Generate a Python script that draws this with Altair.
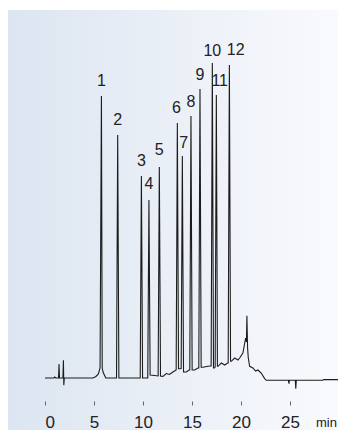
import altair as alt
import pandas as pd

# chromatogram trace (time in min, detector signal in arbitrary units)
trace_t = [0.0, 0.9, 1.0, 1.1, 1.38, 1.43, 1.48, 1.83, 1.88, 1.92, 1.97,
           4.9, 5.2, 5.45, 5.62, 5.76, 5.84, 5.88, 5.92, 6.2,
           7.3, 7.42, 7.54,
           9.72, 9.84, 9.96, 10.49, 10.61, 10.73, 10.96,
           11.55, 11.67, 11.79, 12.04, 12.38, 12.7, 13.06,
           13.39, 13.51, 13.63, 13.74, 13.9, 14.02, 14.14, 14.43, 14.7,
           14.78, 14.90, 15.02, 15.28, 15.61, 15.70, 15.82, 15.94, 16.12,
           16.63, 16.87, 16.96, 17.08, 17.2, 17.28, 17.37, 17.49, 17.6,
           17.66, 18.0, 18.34, 18.64, 18.70, 18.82, 18.94, 19.02, 19.36,
           19.7, 19.87, 20.2, 20.48, 20.56, 20.61, 20.68, 20.75, 20.89,
           21.22, 21.5, 21.73, 22.07, 22.42, 22.59, 24.85, 24.9, 24.95,
           25.55, 25.6, 25.65, 28.35, 28.45, 30.0]
trace_v = [0, 0, 1, 0, 0, 14, 0, 0, 17.7, -7.3, 0,
           0, 1.5, 4, 10, 282, 10, 8, 6, 0,
           0, 243, 0,
           0, 202, 0, 0, 178, 3, 2.7,
           2, 211, 2, 1.7, 4.5, 3.5, 6,
           8, 255, 9.3, 9.3, 9.5, 222, 6, 6, 8,
           8, 262, 8, 8, 10, 10, 289, 10.7, 10.7,
           11.7, 12, 12, 315, 10, 10, 11, 283, 11.7,
           11.7, 15, 13, 15, 15, 313, 16.7, 16.7, 20,
           18, 20, 25, 40, 36, 62.3, 30, 20, 11.7,
           10, 7, 8, 5, -0.6, -2.3, -2.3, -5.6, -2.3,
           -2.3, -10.6, -2.3, -2.3, -1.6, -1.6]

# peak labels
peak_names = ["1", "2", "3", "4", "5", "6", "7", "8", "9", "10", "11", "12"]
label_t = [5.76, 7.42, 9.84, 10.61, 11.67, 13.41, 14.15, 14.90, 15.82, 17.08, 17.83, 19.46]
label_v = [291.7, 252.7, 211.7, 188.7, 222.7, 264.7, 230.4, 271, 297.7, 322.5, 292, 323]

tick_values = [0, 5, 10, 15, 20, 25]
unit_label = ["min"]

trace = pd.DataFrame({"t": trace_t, "v": trace_v})
labels = pd.DataFrame({"t": label_t, "v": label_v, "name": peak_names})
one = pd.DataFrame({"u": unit_label})

xscale = alt.Scale(domain=[0, 29.5], nice=False, zero=False)
yscale = alt.Scale(domain=[-23, 330], nice=False, zero=False)

bg = alt.Chart(one).mark_rect(
    fill=alt.LinearGradient(
        gradient="linear",
        stops=[alt.GradientStop(color="#dce5f1", offset=0),
               alt.GradientStop(color="#f9fafd", offset=1)],
        x1=0, x2=1, y1=0, y2=0),
).encode(x=alt.value(-37), x2=alt.value(293), y=alt.value(-38), y2=alt.value(382))

line = alt.Chart(trace).mark_line(color="#1c1c1c", strokeWidth=1.1).encode(
    x=alt.X("t:Q", scale=xscale,
            axis=alt.Axis(values=tick_values, domain=False, grid=False, tickSize=4,
                          tickColor="#666666", tickWidth=1, labelFontSize=17,
                          labelFont="Liberation Sans", labelColor="#222222",
                          labelBaseline="alphabetic", labelPadding=22,
                          title=None, format="d", zindex=2)),
    y=alt.Y("v:Q", scale=yscale, axis=None),
    order=alt.Order("t:Q"),
)

text = alt.Chart(labels).mark_text(
    font="Liberation Sans", fontSize=16, color="#222222",
    baseline="alphabetic", align="center",
).encode(
    x=alt.X("t:Q", scale=xscale),
    y=alt.Y("v:Q", scale=yscale),
    text="name:N",
)

unit = alt.Chart(one).mark_text(
    font="Liberation Sans", fontSize=13, color="#222222",
    baseline="alphabetic", align="left",
).encode(x=alt.value(271), y=alt.value(379), text="u:N")

chart = alt.layer(bg, line, text, unit).properties(
    width=289, height=353,
    autosize=alt.AutoSizeParams(type="none"),
    padding={"left": 37, "top": 40, "right": 4, "bottom": 29},
).configure_view(stroke=None)

chart.save("out.html", embed_options={"renderer": "svg", "actions": False})
